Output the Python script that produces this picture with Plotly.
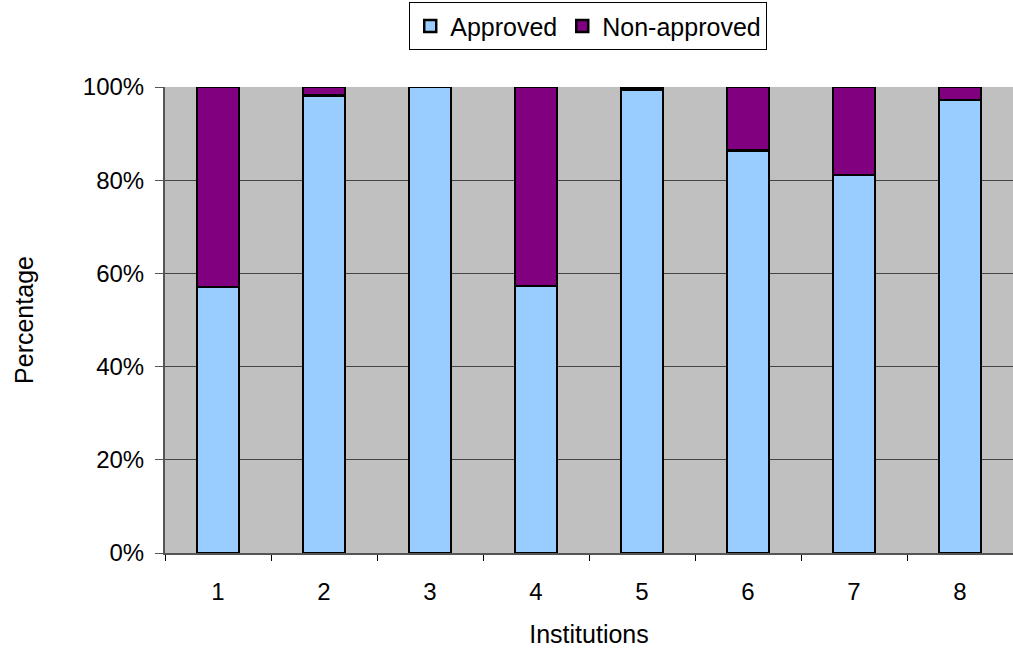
import plotly.graph_objects as go

institutions = ["1", "2", "3", "4", "5", "6", "7", "8"]
approved = [57.1, 98.2, 100.0, 57.3, 99.5, 86.4, 81.1, 97.2]
non_approved = [100 - v for v in approved]

font_family = "Liberation Sans, Arial, sans-serif"

fig = go.Figure()
fig.add_trace(go.Bar(x=institutions, y=approved, name="Approved",
                     marker=dict(color="#99CCFF", line=dict(color="black", width=2.5))))
fig.add_trace(go.Bar(x=institutions, y=non_approved, name="Non-approved",
                     marker=dict(color="#800080", line=dict(color="black", width=2.5))))

fig.update_layout(
    barmode="stack",
    bargap=0.6,
    width=1013, height=651,
    margin=dict(l=165, r=0, t=87, b=98),
    plot_bgcolor="#C0C0C0",
    paper_bgcolor="white",
    font=dict(family=font_family, size=24, color="black"),
    legend=dict(orientation="h", x=0.288, xanchor="left", y=1.182, yanchor="top",
                bordercolor="black", borderwidth=1, font=dict(size=25),
                traceorder="normal", itemwidth=30, tracegroupgap=0),
)
fig.update_xaxes(
    type="category",
    title=dict(text="Institutions", font=dict(size=25), standoff=22),
    showline=True, linecolor="#555555", linewidth=2,
    ticks="outside", tickson="boundaries", ticklen=6, tickcolor="black",
    ticklabelstandoff=16,
    showgrid=False,
)
fig.update_yaxes(
    range=[0, 100],
    tickvals=[0, 20, 40, 60, 80, 100],
    ticktext=["0%", "20%", "40%", "60%", "80%", "100%"],
    title=dict(text="Percentage", font=dict(size=25), standoff=42),
    showline=True, linecolor="#555555", linewidth=2,
    ticks="outside", ticklen=8, tickcolor="#555555",
    ticklabelstandoff=6,
    showgrid=True, gridcolor="#444444", gridwidth=1,
    zeroline=False,
)

fig.write_html("out.html")
